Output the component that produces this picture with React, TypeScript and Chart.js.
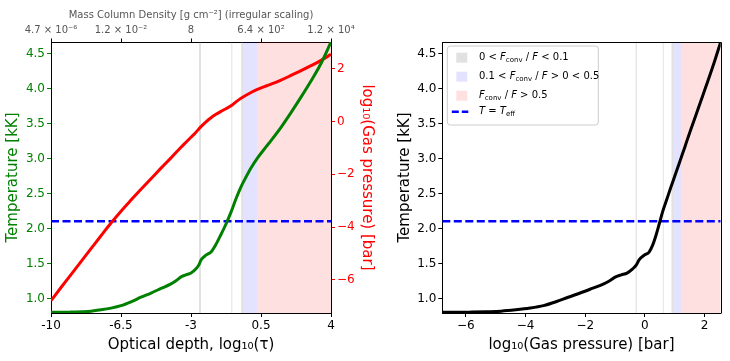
import React, { useEffect, useRef } from "react";
import { Chart, registerables } from "chart.js";

Chart.register(...registerables);

// ---------------- data ----------------
const tau = [
  -10, -9.5, -9, -8.5, -8, -7.5, -7, -6.5, -6, -5.5, -5, -4.5, -4, -3.75, -3.5, -3.25, -3,
  -2.75, -2.6, -2.5, -2.25, -2, -1.75, -1.5, -1.25, -1, -0.75, -0.5, -0.25, 0, 0.32, 0.75, 1,
  1.5, 2, 2.5, 3, 3.5, 4,
];
const temperature = [
  0.81, 0.81, 0.813, 0.818, 0.826, 0.845, 0.87, 0.905, 0.96, 1.025, 1.085, 1.15, 1.215, 1.26,
  1.315, 1.345, 1.37, 1.43, 1.49, 1.555, 1.625, 1.67, 1.78, 1.92, 2.07, 2.24, 2.43, 2.6, 2.74,
  2.87, 3.01, 3.17, 3.26, 3.45, 3.66, 3.88, 4.11, 4.36, 4.667,
];
const pressure = [
  -6.79, -6.29, -5.8, -5.31, -4.82, -4.33, -3.85, -3.4, -2.98, -2.57, -2.17, -1.77, -1.38,
  -1.18, -0.98, -0.79, -0.6, -0.41, -0.28, -0.2, -0.02, 0.14, 0.27, 0.38, 0.48, 0.59, 0.74,
  0.875, 0.99, 1.095, 1.21, 1.34, 1.41, 1.565, 1.74, 1.92, 2.11, 2.31, 2.54,
];
const T_EFF = 2.11;

const tauTicks = [-10, -6.5, -3, 0.5, 4];
const tauTickLabels = ["-10", "-6.5", "-3", "0.5", "4"];
const massTickLabels = ["4.7 × 10⁻⁶", "1.2 × 10⁻²", "8", "6.4 × 10²", "1.2 × 10⁴"];
const tempTicks = [1.0, 1.5, 2.0, 2.5, 3.0, 3.5, 4.0, 4.5];
const pressTicks = [-6, -4, -2, 0, 2];
const pressXTicks = [-6, -4, -2, 0, 2];

const graySpansTau = [[-2.6, -2.5], [-0.985, -0.935], [-0.49, -0.4]];
const blueSpansTau = [[-0.4, 0.32]];
const redSpansTau = [[0.32, 4]];
const graySpansP = [[-0.31, -0.27], [0.6, 0.63], [0.89, 0.96]];
const blueSpansP = [[0.96, 1.23]];
const redSpansP = [[1.23, 2.54]];

const TAU_MIN = -10;
const TAU_MAX = 4;
const T_MIN = 0.8;
const T_MAX = 4.667;
const P_AX_MIN = -7.256;
const P_AX_MAX = 3.0065;
const P_MIN = -6.79;
const P_MAX = 2.54;

// ---------------- styles ----------------
const FONT = "'DejaVu Sans', sans-serif";
const GRAY_FILL = "rgba(128,128,128,0.24)";
const BLUE_FILL = "rgba(0,0,255,0.11)";
const RED_FILL = "rgba(255,0,0,0.12)";
const GREEN = "#008000";

type Part = [string, "n" | "i" | "s"];
const legendRows: { kind: "patch" | "line"; color: string; parts: Part[] }[] = [
  { kind: "patch", color: GRAY_FILL, parts: [["0 < ", "n"], ["F", "i"], ["conv", "s"], [" / ", "n"], ["F", "i"], [" < 0.1", "n"]] },
  { kind: "patch", color: BLUE_FILL, parts: [["0.1 < ", "n"], ["F", "i"], ["conv", "s"], [" / ", "n"], ["F", "i"], [" > 0 < 0.5", "n"]] },
  { kind: "patch", color: RED_FILL, parts: [["F", "i"], ["conv", "s"], [" / ", "n"], ["F", "i"], [" > 0.5", "n"]] },
  { kind: "line", color: "blue", parts: [["T", "i"], [" = ", "n"], ["T", "i"], ["eff", "s"]] },
];
const legendRowOffsets = [15.7, 34.7, 53.7, 69.7];

function spanPlugin(groups: { color: string; spans: number[][] }[]) {
  return {
    id: "spans",
    beforeDatasetsDraw(chart: any) {
      const { ctx, chartArea, scales } = chart;
      const xs = scales.x;
      ctx.save();
      ctx.beginPath();
      ctx.rect(chartArea.left, chartArea.top, chartArea.right - chartArea.left, chartArea.bottom - chartArea.top);
      ctx.clip();
      for (const g of groups) {
        ctx.fillStyle = g.color;
        for (const [a, b] of g.spans) {
          const x1 = xs.getPixelForValue(a);
          const x2 = xs.getPixelForValue(b);
          ctx.fillRect(x1, chartArea.top, x2 - x1, chartArea.bottom - chartArea.top);
        }
      }
      ctx.restore();
    },
  };
}

const framePlugin = {
  id: "frame",
  afterDatasetsDraw(chart: any) {
    const { ctx, chartArea } = chart;
    ctx.save();
    ctx.strokeStyle = "black";
    ctx.lineWidth = 1;
    ctx.beginPath();
    ctx.moveTo(Math.round(chartArea.left) + 0.5, Math.round(chartArea.top) + 0.5);
    ctx.lineTo(Math.round(chartArea.right) + 0.5, Math.round(chartArea.top) + 0.5);
    ctx.lineTo(Math.round(chartArea.right) + 0.5, Math.round(chartArea.bottom) + 0.5);
    ctx.stroke();
    ctx.restore();
  },
};

function drawRich(ctx: CanvasRenderingContext2D, parts: Part[], x: number, y: number) {
  let cx = x;
  for (const [text, kind] of parts) {
    let dy = 0;
    if (kind === "i") ctx.font = `italic 10px ${FONT}`;
    else if (kind === "s") {
      ctx.font = `7px ${FONT}`;
      dy = 2.5;
    } else ctx.font = `10px ${FONT}`;
    ctx.fillText(text, cx, y + dy);
    cx += ctx.measureText(text).width;
  }
}

const legendPlugin = {
  id: "richLegend",
  afterDraw(chart: any) {
    const { ctx, chartArea } = chart;
    const x0 = chartArea.left + 5;
    const y0 = chartArea.top + 4;
    const w = 151;
    const h = 79;
    const r = 3;
    ctx.save();
    ctx.beginPath();
    ctx.moveTo(x0 + r, y0);
    ctx.lineTo(x0 + w - r, y0);
    ctx.arcTo(x0 + w, y0, x0 + w, y0 + r, r);
    ctx.lineTo(x0 + w, y0 + h - r);
    ctx.arcTo(x0 + w, y0 + h, x0 + w - r, y0 + h, r);
    ctx.lineTo(x0 + r, y0 + h);
    ctx.arcTo(x0, y0 + h, x0, y0 + h - r, r);
    ctx.lineTo(x0, y0 + r);
    ctx.arcTo(x0, y0, x0 + r, y0, r);
    ctx.closePath();
    ctx.fillStyle = "rgba(255,255,255,0.8)";
    ctx.fill();
    ctx.strokeStyle = "#cccccc";
    ctx.lineWidth = 1;
    ctx.stroke();

    legendRows.forEach((row, i) => {
      const cy = chartArea.top + legendRowOffsets[i];
      if (row.kind === "patch") {
        ctx.fillStyle = row.color;
        ctx.fillRect(chartArea.left + 14, cy - 5, 11, 10);
      } else {
        ctx.strokeStyle = row.color;
        ctx.lineWidth = 2.5;
        ctx.setLineDash([7, 3]);
        ctx.beginPath();
        ctx.moveTo(chartArea.left + 9.5, cy);
        ctx.lineTo(chartArea.left + 26, cy);
        ctx.stroke();
        ctx.setLineDash([]);
      }
      ctx.fillStyle = "#000";
      ctx.textBaseline = "middle";
      ctx.textAlign = "left";
      drawRich(ctx, row.parts, chartArea.left + 36.7, cy);
    });
    ctx.restore();
  },
};

const pts = (xs: number[], ys: number[]) => xs.map((x, i) => ({ x, y: ys[i] }));
const minusify = (v: number) => (v < 0 ? "−" + Math.abs(v) : String(v));

function LeftChart() {
  const ref = useRef<HTMLCanvasElement>(null);
  useEffect(() => {
    const chart = new Chart(ref.current as HTMLCanvasElement, {
      type: "line",
      data: {
        datasets: [
          {
            label: "Temperature",
            data: pts(tau, temperature),
            borderColor: GREEN,
            borderWidth: 3,
            pointRadius: 0,
            cubicInterpolationMode: "monotone",
            xAxisID: "x",
            yAxisID: "y",
          },
          {
            label: "Pressure",
            data: pts(tau, pressure),
            borderColor: "red",
            borderWidth: 3,
            pointRadius: 0,
            cubicInterpolationMode: "monotone",
            xAxisID: "x",
            yAxisID: "y2",
          },
          {
            label: "Teff",
            data: [{ x: TAU_MIN, y: T_EFF }, { x: TAU_MAX, y: T_EFF }],
            borderColor: "blue",
            borderWidth: 2.5,
            borderDash: [8, 3.5],
            pointRadius: 0,
            xAxisID: "x",
            yAxisID: "y",
          },
        ],
      } as any,
      options: {
        responsive: false,
        animation: false,
        devicePixelRatio: 1,
        layout: { padding: 0 },
        plugins: { legend: { display: false }, tooltip: { enabled: false } },
        scales: {
          x: {
            type: "linear",
            position: "bottom",
            min: TAU_MIN,
            max: TAU_MAX,
            afterBuildTicks: (s: any) => {
              s.ticks = tauTicks.map((v) => ({ value: v }));
            },
            afterFit: (s: any) => {
              s.height = 48;
            },
            ticks: {
              autoSkip: false,
              maxRotation: 0,
              minRotation: 0,
              padding: 2,
              color: "#000",
              font: { family: FONT, size: 12 },
              callback: (_v: any, i: number) => tauTickLabels[i],
            },
            grid: { drawOnChartArea: false, tickLength: 4, tickColor: "#000" },
            border: { color: "#000", width: 1 },
            title: {
              display: true,
              text: "Optical depth, log₁₀(τ)",
              color: "#000",
              font: { family: FONT, size: 15 },
              padding: { top: 0, bottom: 7 },
            },
          },
          xTop: {
            type: "linear",
            axis: "x",
            position: "top",
            min: TAU_MIN,
            max: TAU_MAX,
            afterBuildTicks: (s: any) => {
              s.ticks = tauTicks.map((v) => ({ value: v }));
            },
            afterFit: (s: any) => {
              s.height = 42;
            },
            ticks: {
              autoSkip: false,
              maxRotation: 0,
              minRotation: 0,
              padding: 2,
              color: "#555",
              font: { family: FONT, size: 10 },
              callback: (_v: any, i: number) => massTickLabels[i],
            },
            grid: { drawOnChartArea: false, tickLength: 3.5, tickColor: "#000" },
            border: { color: "#000", width: 1 },
            title: {
              display: true,
              text: "Mass Column Density [g cm⁻²] (irregular scaling)",
              color: "#555",
              font: { family: FONT, size: 10 },
              padding: { top: 9, bottom: 0 },
            },
          },
          y: {
            type: "linear",
            position: "left",
            min: T_MIN,
            max: T_MAX,
            afterBuildTicks: (s: any) => {
              s.ticks = tempTicks.map((v) => ({ value: v }));
            },
            afterFit: (s: any) => {
              s.width = 51;
            },
            ticks: {
              padding: 2,
              color: GREEN,
              font: { family: FONT, size: 12 },
              callback: (v: any) => Number(v).toFixed(1),
            },
            grid: { drawOnChartArea: false, tickLength: 4, tickColor: GREEN },
            border: { color: "#000", width: 1 },
            title: {
              display: true,
              text: "Temperature [kK]",
              color: GREEN,
              font: { family: FONT, size: 15 },
              padding: { top: 4, bottom: 0 },
            },
          },
          y2: {
            type: "linear",
            position: "right",
            min: P_AX_MIN,
            max: P_AX_MAX,
            afterBuildTicks: (s: any) => {
              s.ticks = pressTicks.map((v) => ({ value: v }));
            },
            afterFit: (s: any) => {
              s.width = 49;
            },
            ticks: {
              padding: 2,
              color: "red",
              font: { family: FONT, size: 12 },
              callback: (v: any) => minusify(Number(v)),
            },
            grid: { drawOnChartArea: false, tickLength: 4, tickColor: "red" },
            border: { color: "#000", width: 1 },
            title: {
              display: true,
              text: "log₁₀(Gas pressure) [bar]",
              color: "red",
              font: { family: FONT, size: 15 },
              padding: { top: 4, bottom: 0 },
            },
          },
        },
      } as any,
      plugins: [
        spanPlugin([
          { color: GRAY_FILL, spans: graySpansTau },
          { color: BLUE_FILL, spans: blueSpansTau },
          { color: RED_FILL, spans: redSpansTau },
        ]),
      ],
    });
    return () => chart.destroy();
  }, []);
  return (
    <canvas
      ref={ref}
      width={380}
      height={361}
      style={{ position: "absolute", left: 0, top: 0, width: 380, height: 361 }}
    />
  );
}

function RightChart() {
  const ref = useRef<HTMLCanvasElement>(null);
  useEffect(() => {
    const chart = new Chart(ref.current as HTMLCanvasElement, {
      type: "line",
      data: {
        datasets: [
          {
            label: "T(P)",
            data: pts(pressure, temperature),
            borderColor: "#000",
            borderWidth: 3,
            pointRadius: 0,
            cubicInterpolationMode: "monotone",
          },
          {
            label: "Teff",
            data: [{ x: P_MIN, y: T_EFF }, { x: P_MAX, y: T_EFF }],
            borderColor: "blue",
            borderWidth: 2.5,
            borderDash: [8, 3.5],
            pointRadius: 0,
          },
        ],
      } as any,
      options: {
        responsive: false,
        animation: false,
        devicePixelRatio: 1,
        layout: { padding: { top: 42, right: 9.3, left: 0, bottom: 0 } },
        plugins: { legend: { display: false }, tooltip: { enabled: false } },
        scales: {
          x: {
            type: "linear",
            position: "bottom",
            min: P_MIN,
            max: P_MAX,
            afterBuildTicks: (s: any) => {
              s.ticks = pressXTicks.map((v) => ({ value: v }));
            },
            afterFit: (s: any) => {
              s.height = 48;
            },
            ticks: {
              autoSkip: false,
              maxRotation: 0,
              minRotation: 0,
              padding: 2,
              color: "#000",
              font: { family: FONT, size: 12 },
              callback: (v: any) => minusify(Number(v)),
            },
            grid: { drawOnChartArea: false, tickLength: 4, tickColor: "#000" },
            border: { color: "#000", width: 1 },
            title: {
              display: true,
              text: "log₁₀(Gas pressure) [bar]",
              color: "#000",
              font: { family: FONT, size: 15 },
              padding: { top: 0, bottom: 7 },
            },
          },
          y: {
            type: "linear",
            position: "left",
            min: T_MIN,
            max: T_MAX,
            afterBuildTicks: (s: any) => {
              s.ticks = tempTicks.map((v) => ({ value: v }));
            },
            afterFit: (s: any) => {
              s.width = 62.3;
            },
            ticks: {
              padding: 2,
              color: "#000",
              font: { family: FONT, size: 12 },
              callback: (v: any) => Number(v).toFixed(1),
            },
            grid: { drawOnChartArea: false, tickLength: 4, tickColor: "#000" },
            border: { color: "#000", width: 1 },
            title: {
              display: true,
              text: "Temperature [kK]",
              color: "#000",
              font: { family: FONT, size: 15 },
              padding: { top: 16, bottom: 0 },
            },
          },
        },
      } as any,
      plugins: [
        spanPlugin([
          { color: GRAY_FILL, spans: graySpansP },
          { color: BLUE_FILL, spans: blueSpansP },
          { color: RED_FILL, spans: redSpansP },
        ]),
        framePlugin,
        legendPlugin,
      ],
    });
    return () => chart.destroy();
  }, []);
  return (
    <canvas
      ref={ref}
      width={350}
      height={361}
      style={{ position: "absolute", left: 380, top: 0, width: 350, height: 361 }}
    />
  );
}

export default function App() {
  return (
    <div
      style={{
        position: "absolute",
        left: 0,
        top: 0,
        width: 730,
        height: 361,
        background: "#fff",
        overflow: "hidden",
      }}
    >
      <LeftChart />
      <RightChart />
    </div>
  );
}
